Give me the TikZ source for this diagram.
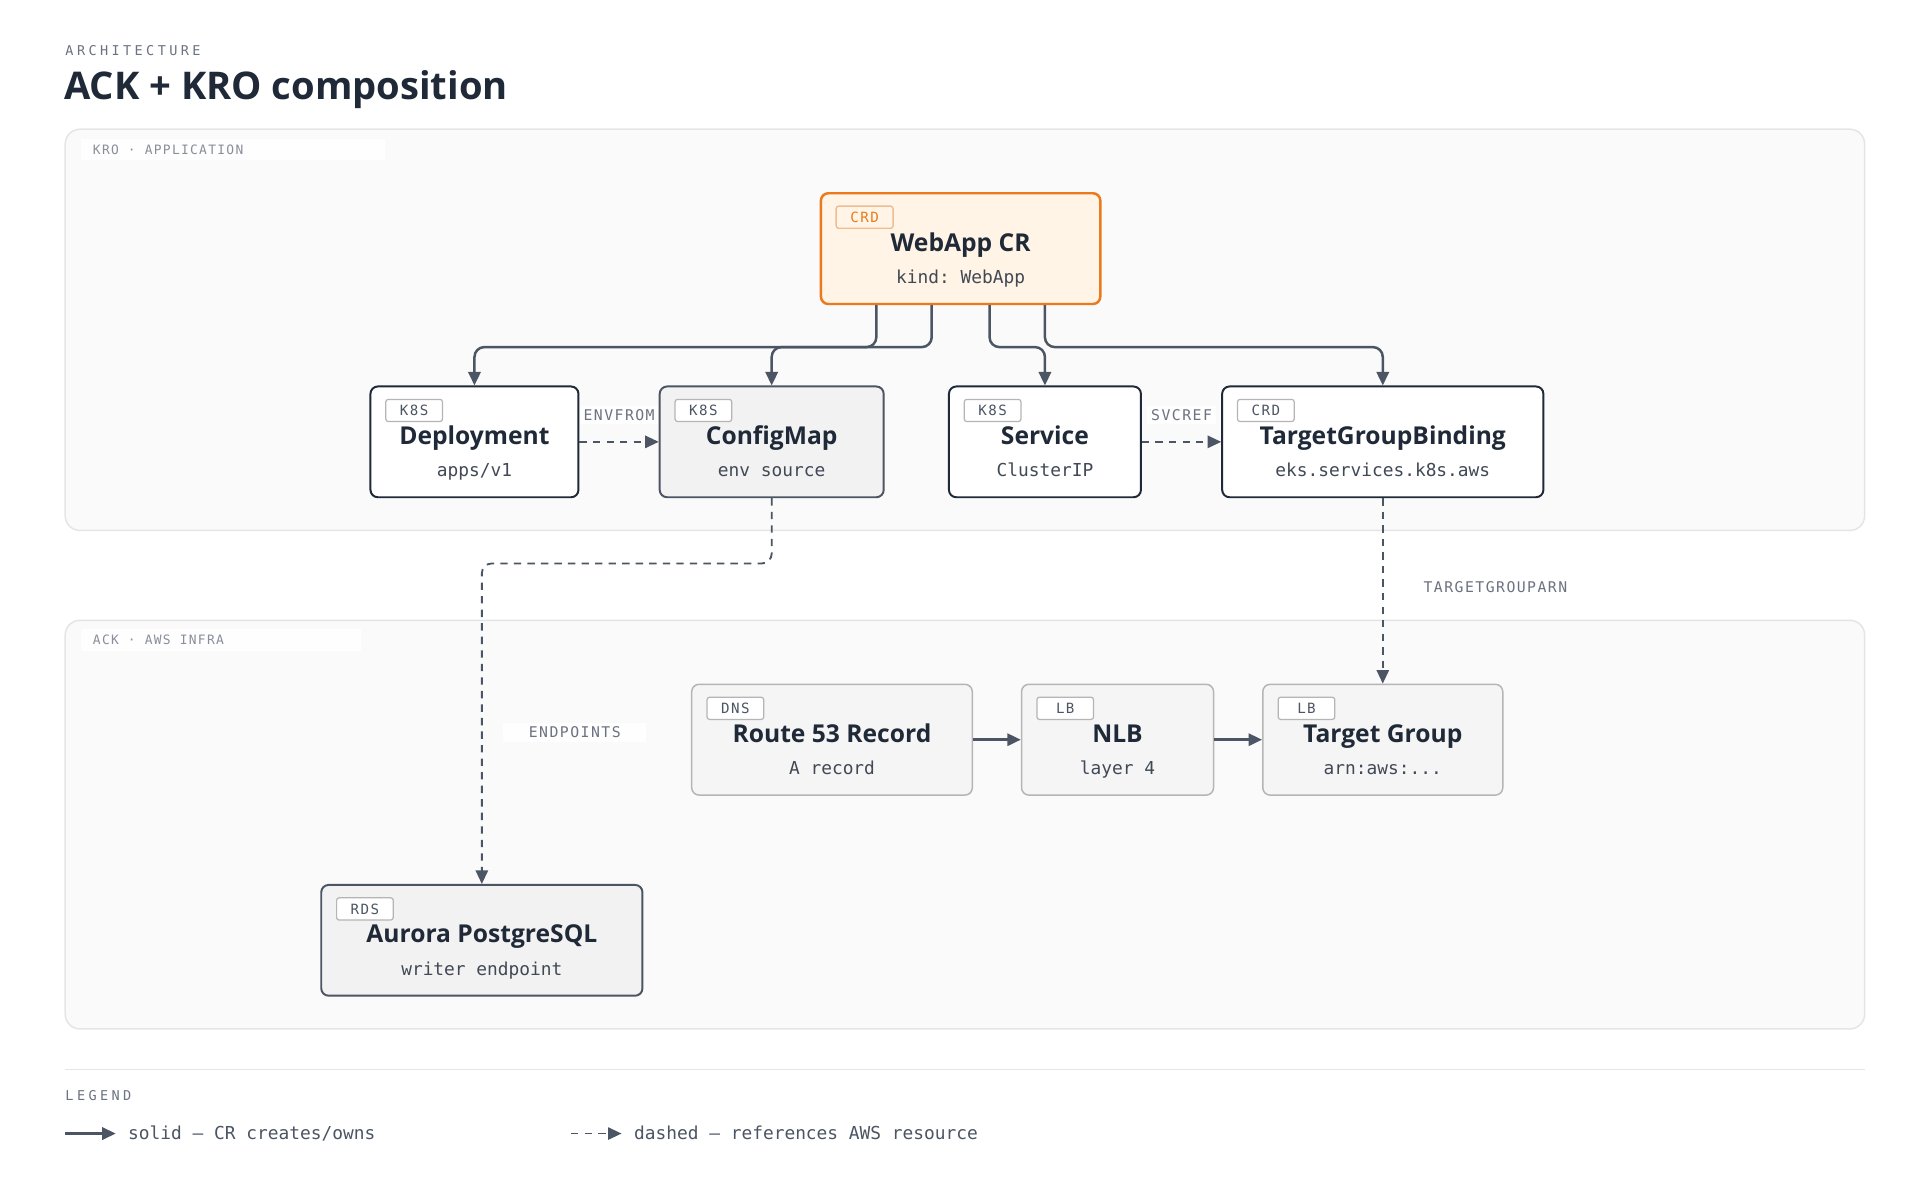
\documentclass[tikz,border=0pt]{standalone}
\usepackage{fontspec}
\setmainfont{Open Sans}
\setmonofont{DejaVu Sans Mono}
\newfontfamily\monowide[LetterSpace=25]{DejaVu Sans Mono}
\newfontfamily\monomid[LetterSpace=10]{DejaVu Sans Mono}
\usetikzlibrary{arrows.meta,positioning}
\definecolor{ink}{HTML}{1F2937}
\definecolor{edge}{HTML}{4B5563}
\definecolor{muted}{HTML}{6B7280}
\definecolor{panel}{HTML}{FAFAFA}
\definecolor{panelline}{HTML}{E5E5E5}
\definecolor{orange}{HTML}{EA7A1C}
\definecolor{orangebg}{HTML}{FFF4E5}
\definecolor{lightline}{HTML}{B5B5B5}
\tikzset{
  panelbox/.style={draw=panelline,fill=panel,line width=1.2pt,rounded corners=12pt},
  cardbox/.style={rounded corners=6pt,line width=1.6pt,inner sep=0pt},
  darkcard/.style={cardbox,draw=ink,fill=white},
  midcard/.style={cardbox,draw=edge,fill=black!5},
  lightcard/.style={cardbox,draw=lightline,fill=black!4,line width=1.2pt},
  orangecard/.style={cardbox,draw=orange,fill=orangebg,line width=2pt},
  tagbox/.style={draw=lightline,rounded corners=2pt,line width=1pt,fill=white,font=\monomid\fontsize{11.5}{13}\selectfont,text=edge,minimum width=46pt,minimum height=18pt,inner sep=0pt,anchor=north west},
  titletext/.style={font=\fontsize{20}{24}\selectfont\bfseries,text=ink,text height=14pt,text depth=4pt,inner sep=0pt},
  subtext/.style={font=\ttfamily\fontsize{14.5}{17}\selectfont,text=ink!85,text height=10pt,text depth=3pt,inner sep=0pt},
  conn/.style={draw=edge,line width=2pt,-{Triangle[length=11pt,width=10pt]},rounded corners=8pt},
  dconn/.style={conn,line width=1.5pt,dash pattern=on 6pt off 5pt},
  elabel/.style={font=\monomid\fontsize{12}{14}\selectfont,text=muted,fill=white,fill opacity=0.8,text opacity=1,inner sep=3pt},
  paneltag/.style={font=\monomid\fontsize{10.5}{12}\selectfont,text=muted!80,anchor=west},
}
\newcommand{\card}[9]{%
  \node[#9,minimum width=#4pt-#2pt,minimum height=#5pt-#3pt] (#1) at ({(#2+#4)/2},{(#3+#5)/2}) {};
  \node[tagbox] (#1-tag) at (#2+12,#3+10) {#6};
  \node[titletext] (#1-title) at ({(#2+#4)/2},#3+42) {#7};
  \node[subtext] (#1-sub) at ({(#2+#4)/2},#3+70) {#8};
}
\begin{document}
\begin{tikzpicture}[x=1pt,y=-1pt]
\useasboundingbox (0,0) rectangle (1560,975);
\fill[white] (0,0) rectangle (1560,975);
\node[font=\monowide\fontsize{11}{12}\selectfont,text=muted,anchor=west,inner sep=0pt] (arch) at (53,41) {ARCHITECTURE};
\node[font=\fontsize{31}{38}\selectfont\bfseries,text=ink,anchor=west,inner sep=0pt] (title) at (52,73) {ACK + KRO composition};
% panels
\draw[panelbox] (53,105) rectangle (1515,431);
\fill[white,opacity=0.8] (66,113) rectangle (313,130);
\node[paneltag] (kro) at (72,122) {KRO · APPLICATION};
\draw[panelbox] (53,504) rectangle (1515,836);
\fill[white,opacity=0.8] (66,511) rectangle (293,529);
\node[paneltag] (ack) at (72,520) {ACK · AWS INFRA};
% cards
\card{web}{667}{157}{894}{247}{CRD}{WebApp CR}{kind: WebApp}{orangecard}
\node[tagbox,draw=orange!50,text=orange,fill=orangebg] at (679,167) {CRD};
\card{dep}{301}{314}{470}{404}{K8S}{Deployment}{apps/v1}{darkcard}
\card{cfg}{536}{314}{718}{404}{K8S}{ConfigMap}{env source}{midcard}
\card{svc}{771}{314}{927}{404}{K8S}{Service}{ClusterIP}{darkcard}
\card{tgb}{993}{314}{1254}{404}{CRD}{TargetGroupBinding}{eks.services.k8s.aws}{darkcard}
\card{r53}{562}{556}{790}{646}{DNS}{Route 53 Record}{A record}{lightcard}
\card{nlb}{830}{556}{986}{646}{LB}{NLB}{layer 4}{lightcard}
\card{tg}{1026}{556}{1221}{646}{LB}{Target Group}{arn:aws:...}{lightcard}
\card{rds}{261}{719}{522}{809}{RDS}{Aurora PostgreSQL}{writer endpoint}{midcard}
% solid connectors
\draw[conn] ([xshift=-68.5pt]web.south) -- ++(0,34) -| (dep.north);
\draw[conn] ([xshift=-23.5pt]web.south) -- ++(0,34) -| (cfg.north);
\draw[conn] ([xshift=23.5pt]web.south) -- ++(0,34) -| (svc.north);
\draw[conn] ([xshift=68.5pt]web.south) -- ++(0,34) -| (tgb.north);
\draw[conn,rounded corners=0pt] (r53.east) -- (nlb.west);
\draw[conn,rounded corners=0pt] (nlb.east) -- (tg.west);
% dashed connectors
\draw[dconn] (dep.east) -- (cfg.west);
\node[elabel] (lenv) at (503,337) {ENVFROM};
\draw[dconn] (svc.east) -- (tgb.west);
\node[elabel] (lsvc) at (960,337) {SVCREF};
\draw[dconn] (cfg.south) -- ++(0,53) -| (rds.north);
\node[elabel,minimum width=116pt] (lend) at (467,595) {ENDPOINTS};
\draw[dconn] (tgb.south) -- (tg.north);
\node[elabel] (ltg) at (1215,477) {TARGETGROUPARN};
% legend
\draw[panelline,line width=1.2pt] (53,869) -- (1515,869);
\node[font=\monowide\fontsize{11}{12}\selectfont,text=muted,anchor=west,inner sep=0pt] (leg) at (53,890) {LEGEND};
\coordinate (s1) at (53,921); \coordinate (s2) at (94,921);
\draw[conn] (s1) -- (s2);
\node[subtext,anchor=west,text=edge] (ls) at (104,922) {solid — CR creates/owns};
\coordinate (d1) at (464,921); \coordinate (d2) at (505,921);
\draw[dconn] (d1) -- (d2);
\node[subtext,anchor=west,text=edge] (ld) at (515,922) {dashed — references AWS resource};
\end{tikzpicture}
\end{document}
